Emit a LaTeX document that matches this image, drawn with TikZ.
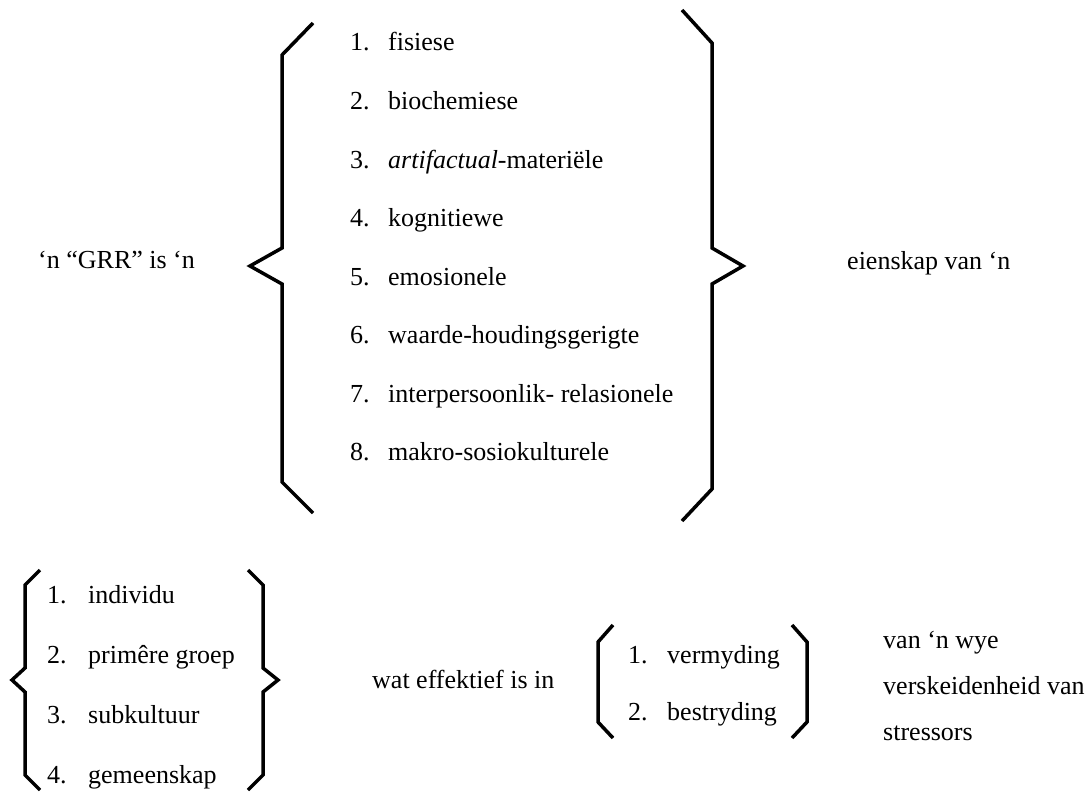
\documentclass[tikz,border=0pt]{standalone}
\usepackage{fontspec}
\setmainfont{Liberation Serif}
\begin{document}
\begin{tikzpicture}[x=1pt,y=-1pt,
  brace/.style={line width=3.5pt, line join=miter, line cap=butt},
  txt/.style={anchor=base west, inner sep=0pt, font=\fontsize{26}{30}\selectfont}]
\useasboundingbox (0,0) rectangle (1092,800);
% top braces
\draw[brace] (313,23) -- (282,55) -- (282,248) -- (250,266) -- (282,284) -- (282,482) -- (313,513);
\draw[brace] (682,10) -- (712,43) -- (712,248) -- (743,266) -- (712,284) -- (712,489) -- (682,521);
% top items
\foreach \n/\t [count=\k from 0] in {1/fisiese, 2/biochemiese, 3/{\textit{artifactual}-materiële}, 4/kognitiewe, 5/emosionele, 6/waarde-houdingsgerigte, 7/interpersoonlik- relasionele, 8/makro-sosiokulturele}{
  \node[txt] (tn\n) at (350, 51+58.5*\k) {\n.};
  \node[txt] (tt\n) at (388, 51+58.5*\k) {\t};
}
\node[txt] (grr) at (38,268) {‘n “GRR” is ‘n};
\node[txt] (eien) at (847,269) {eienskap van ‘n};
% bottom braces
\draw[brace] (40,570) -- (25,585) -- (25,668) -- (12,680) -- (25,692) -- (25,775) -- (40,790);
\draw[brace] (248,570) -- (263,585) -- (263,668) -- (278,680) -- (263,692) -- (263,775) -- (248,790);
\foreach \n/\t [count=\k from 0] in {1/individu, 2/primêre groep, 3/subkultuur, 4/gemeenskap}{
  \node[txt] (bn\n) at (47, 603+60*\k) {\n.};
  \node[txt] (bt\n) at (88, 603+60*\k) {\t};
}
\node[txt] (wat) at (372,688) {wat effektief is in};
% parentheses
\draw[brace] (613,625) -- (598,642) -- (598,722) -- (613,738);
\draw[brace] (792,625) -- (807,642) -- (807,722) -- (792,738);
\node[txt] (pn1) at (628,663) {1.};
\node[txt] (pt1) at (667,663) {vermyding};
\node[txt] (pn2) at (628,720) {2.};
\node[txt] (pt2) at (667,720) {bestryding};
\node[txt] (r1) at (883,648) {van ‘n wye};
\node[txt] (r2) at (883,694) {verskeidenheid van};
\node[txt] (r3) at (883,740) {stressors};
\end{tikzpicture}
\end{document}
